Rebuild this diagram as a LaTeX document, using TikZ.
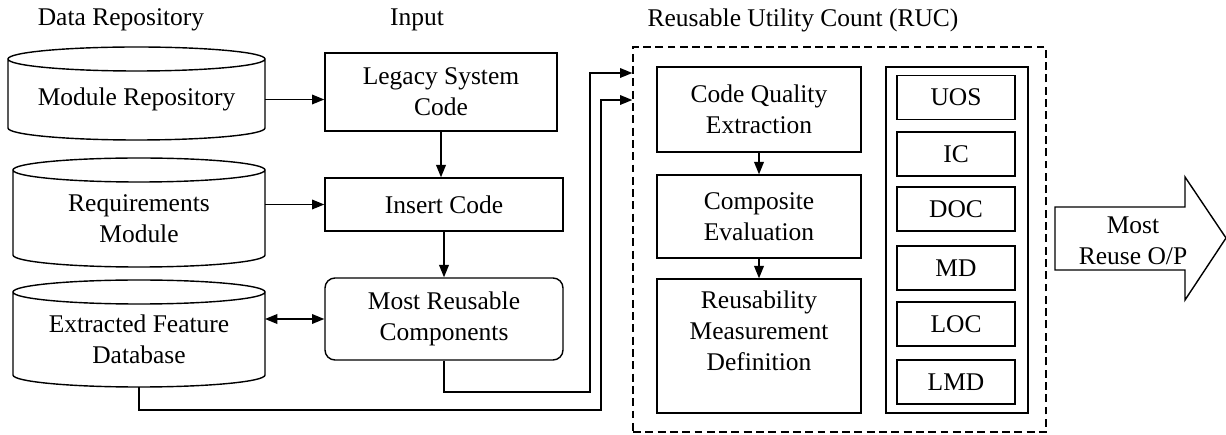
\documentclass[tikz,border=0pt]{standalone}
\usepackage{fontspec}
\setmainfont{Liberation Serif}
\usepackage{tikz}
\usetikzlibrary{arrows.meta,positioning,calc}

% cylinder outline round a body node: name, half width
\newcommand{\dbcyl}[2]{%
  \draw (#1.north) ellipse[x radius=#2,y radius=0.24cm]
    (#1.north west) -- ([yshift=0.24cm]#1.south west)
    arc[start angle=180,end angle=360,x radius=#2,y radius=0.24cm]
    -- (#1.north east);}

\begin{document}
\begin{tikzpicture}[font=\fontsize{14.5}{17.6}\selectfont,>={Triangle[length=7pt,width=5.5pt]},line width=0.8pt,
    dbbody/.style={inner sep=0pt,outer sep=0pt,align=center},
    procbox/.style={draw,align=center,inner sep=2pt},
    metricbox/.style={draw,minimum width=2.36cm,minimum height=0.88cm},
    ruczone/.style={draw,dash pattern=on 4.5pt off 2.5pt}]
    \useasboundingbox (0,0) rectangle (24.52,-8.70);

    % headings
    \node (repotitle) at (2.42,-0.40) {Data Repository};
    \node (inputtitle) at (8.34,-0.40) {Input};
    \node (ructitle) at (16.06,-0.40) {Reusable Utility Count (RUC)};

    % data repository
    \node[dbbody,minimum width=5.14cm,minimum height=1.62cm] (modrep) at (2.73,-1.99) {Module Repository};
    \node[dbbody,minimum width=5.04cm,minimum height=1.94cm] (reqmod) at (2.78,-4.37) {Requirements\\Module};
    \node[dbbody,minimum width=5.04cm,minimum height=1.90cm] (efdb) at (2.78,-6.79) {Extracted Feature\\Database};
    \dbcyl{modrep}{2.57cm}
    \dbcyl{reqmod}{2.52cm}
    \dbcyl{efdb}{2.52cm}

    % input
    \node[procbox,minimum width=4.64cm,minimum height=1.56cm] (legacy) at (8.82,-1.84) {Legacy System\\Code};
    \node[procbox,minimum width=4.76cm,minimum height=1.06cm] (insert) at (8.88,-4.09) {Insert Code};
    \node[procbox,rounded corners=0.2cm,minimum width=4.76cm,minimum height=1.64cm] (mrc) at (8.88,-6.38) {Most Reusable\\Components};

    % RUC
    \node[ruczone,minimum width=8.26cm,minimum height=7.70cm] (ruc) at (16.79,-4.79) {};
    \node[procbox,minimum width=4.08cm,minimum height=1.70cm] (cqe) at (15.18,-2.19) {Code Quality\\Extraction};
    \node[procbox,minimum width=4.08cm,minimum height=1.66cm] (ce) at (15.18,-4.33) {Composite\\Evaluation};
    \node[procbox,minimum width=4.08cm,minimum height=2.68cm] (rmd) at (15.18,-6.92) {Reusability\\Measurement\\Definition\\ \mbox{}};
    \node[draw,minimum width=2.84cm,minimum height=6.92cm] (metricpanel) at (19.14,-4.80) {};
    \foreach \m/\y in {UOS/-1.95,IC/-3.08,DOC/-4.18,MD/-5.36,LOC/-6.48,LMD/-7.64}
      \node[metricbox] (\m) at (19.12,\y) {\m};

    % output
    \node[align=center] (mostout) at (22.66,-4.82) {Most\\Reuse O/P};
    \draw (21.10,-4.14) -- (23.70,-4.14) -- (23.70,-3.54) -- (24.52,-4.76)
      -- (23.70,-6.00) -- (23.70,-5.40) -- (21.10,-5.40) -- cycle;

    \coordinate (j1) at (11.80,-7.84);
    \coordinate (j2) at (12.02,-8.20);
    \coordinate (in1) at (ruc.west |- 0,-1.46);
    \coordinate (in2) at (ruc.west |- 0,-2.00);

    \draw[->] (modrep.east) -- (modrep.east -| legacy.west);
    \draw[->] (reqmod.east |- insert.west) -- (insert.west);
    \draw[<->] (efdb.east |- mrc.west) -- (mrc.west);
    \draw[->] (legacy.south) -- (legacy.south |- insert.north);
    \draw[->] (insert) -- (mrc);
    \draw[->] (mrc.south) |- (j1) |- (in1);
    \draw[->] (efdb.south) |- (j2) |- (in2);
    \draw[->] (cqe) -- (ce);
    \draw[->] (ce) -- (rmd);
  \end{tikzpicture}
\end{document}
